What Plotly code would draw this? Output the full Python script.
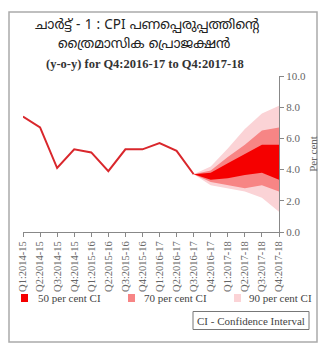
import plotly.graph_objects as go

categories = ["Q1:2014-15", "Q2:2014-15", "Q3:2014-15", "Q4:2014-15",
              "Q1:2015-16", "Q2:2015-16", "Q3:2015-16", "Q4:2015-16",
              "Q1:2016-17", "Q2:2016-17", "Q3:2016-17", "Q4:2016-17",
              "Q1:2017-18", "Q2:2017-18", "Q3:2017-18", "Q4:2017-18"]
actual = [7.4, 6.7, 4.1, 5.3, 5.1, 3.9, 5.3, 5.3, 5.7, 5.2, 3.7]
fan_x = categories[10:]
ci50_upper = [3.7, 3.8, 4.4, 5.0, 5.6, 5.6]
ci50_lower = [3.7, 3.35, 3.45, 3.65, 3.8, 3.35]
ci70_upper = [3.7, 3.95, 4.8, 5.6, 6.5, 6.7]
ci70_lower = [3.7, 3.2, 3.0, 2.8, 3.0, 2.6]
ci90_upper = [3.7, 4.2, 5.35, 6.6, 7.6, 8.1]
ci90_lower = [3.7, 3.0, 2.8, 2.6, 2.2, 1.3]
yticks = [0, 2, 4, 6, 8, 10]

W, H = 328, 354
L, R, T, B = 23, 279, 76, 232
def px(x):
    return (x - L) / (R - L)
def py(y):
    return (B - y) / (B - T)

C50, C70, C90 = "#f50000", "#f78585", "#fbd3d6"
LINE = "#d9272c"
SERIF = "Liberation Serif, DejaVu Serif, serif"
ML = "Noto Sans Malayalam, Noto Serif Malayalam, Manjari, Rachana, Meera, Noto Sans, sans-serif"

fig = go.Figure()
for up, lo, col in [(ci90_upper, ci90_lower, C90), (ci70_upper, ci70_lower, C70), (ci50_upper, ci50_lower, C50)]:
    fig.add_trace(go.Scatter(x=fan_x + fan_x[::-1], y=up + lo[::-1], fill="toself",
                             fillcolor=col, line=dict(width=0, color=col), mode="lines",
                             hoverinfo="skip", showlegend=False))
fig.add_trace(go.Scatter(x=categories[:len(actual)], y=actual, mode="lines",
                         line=dict(color=LINE, width=2), showlegend=False))

fig.update_xaxes(type="category", categoryorder="array", categoryarray=categories,
                 range=[0, 15], tickangle=-90, showline=True, linecolor="#888", linewidth=1,
                 ticks="outside", ticklen=4, tickcolor="#888", showgrid=False, zeroline=False,
                 tickfont=dict(family=SERIF, size=10.5, color="#666"))
fig.update_yaxes(range=[0, 10], side="right", tickvals=yticks, tickformat=".1f",
                 showline=True, linecolor="#888", linewidth=1, ticks="outside", ticklen=4,
                 tickcolor="#888", showgrid=False, zeroline=False,
                 tickfont=dict(family=SERIF, size=11, color="#666"),
                 title=dict(text="Per cent", font=dict(family=SERIF, size=11, color="#666"), standoff=4))

shapes = [dict(type="rect", xref="paper", yref="paper", x0=px(9), x1=px(317), y0=py(342), y1=py(12),
               line=dict(color="#aaaaaa", width=1.5), layer="below"),
          dict(type="rect", xref="paper", yref="paper", x0=px(193), x1=px(309), y0=py(329.5), y1=py(311.5),
               line=dict(color="#777", width=1))]
ann = [
    dict(text="ചാർട്ട് - 1 : CPI പണപ്പെരുപ്പത്തിന്റെ", x=px(147), y=py(25), font=dict(family=ML, size=13.5, color="#222")),
    dict(text="ത്രൈമാസിക പ്രൊജക്ഷൻ", x=px(144), y=py(44), font=dict(family=ML, size=13.5, color="#222")),
    dict(text="<b>(y-o-y) for Q4:2016-17 to Q4:2017-18</b>", x=px(145), y=py(64), font=dict(family=SERIF, size=12.5, color="#333")),
    dict(text="CI - Confidence Interval", x=px(251), y=py(320.5), font=dict(family=SERIF, size=11, color="#444")),
]
for sx, tx, col, lab in [(21, 36, C50, "50 per cent CI"), (128, 142, C70, "70 per cent CI"), (234, 247, C90, "90 per cent CI")]:
    shapes.append(dict(type="rect", xref="paper", yref="paper", x0=px(sx), x1=px(sx + 7), y0=py(302), y1=py(294),
                       fillcolor=col, line=dict(width=0)))
    ann.append(dict(text=lab, x=px(tx), y=py(298), xanchor="left", font=dict(family=SERIF, size=11, color="#444")))
for a in ann:
    a.setdefault("xanchor", "center")
    a.update(xref="paper", yref="paper", yanchor="middle", showarrow=False)

fig.update_layout(width=W, height=H, margin=dict(l=L, r=W - R, t=T, b=H - B, autoexpand=False),
                  paper_bgcolor="white", plot_bgcolor="white", shapes=shapes, annotations=ann)
fig.write_html("out.html")
